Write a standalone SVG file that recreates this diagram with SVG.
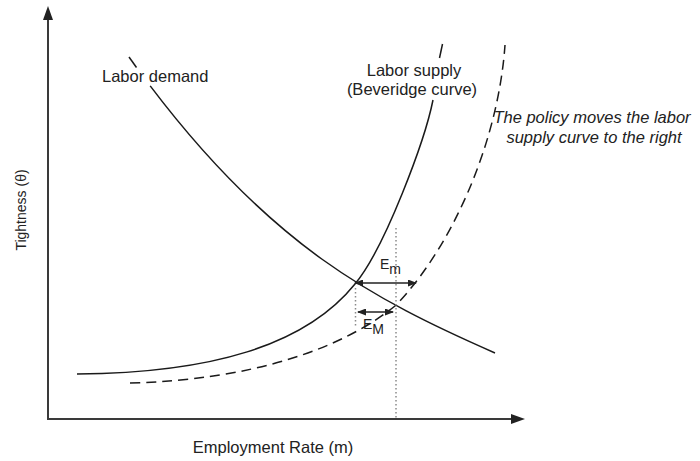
<svg xmlns="http://www.w3.org/2000/svg" width="700" height="461" viewBox="0 0 700 461">
  <style>
    .lbl { font-family: "Liberation Sans", Arial, sans-serif; font-size: 16.5px; fill: #222; }
    .ital { font-style: italic; }
    .sm { font-family: "Liberation Sans", Arial, sans-serif; font-size: 14px; fill: #222; }
    .axis { stroke: #3a3a3a; stroke-width: 2; fill: none; }
    .curve { stroke: #1a1a1a; stroke-width: 1.5; fill: none; }
    .dash { stroke-dasharray: 10 6; }
    .dot { stroke: #8a8a8a; stroke-width: 1.5; stroke-dasharray: 1.5 2.5; fill: none; }
    .gap { stroke: #222; stroke-width: 1.3; fill: none; }
  </style>
  <defs>
    <marker id="axisHead" viewBox="0 0 14 10" refX="6" refY="5" markerWidth="14" markerHeight="10" markerUnits="userSpaceOnUse" orient="auto">
      <path d="M0,0 L14,5 L0,10 z" fill="#222"/>
    </marker>
    <marker id="gapHead" viewBox="0 0 9 7" refX="8" refY="3.5" markerWidth="9" markerHeight="7" markerUnits="userSpaceOnUse" orient="auto-start-reverse">
      <path d="M0,0 L9,3.5 L0,7 z" fill="#222"/>
    </marker>
  </defs>

  <g id="axes">
    <line class="axis" x1="48" y1="419" x2="48" y2="14" marker-end="url(#axisHead)"/>
    <line class="axis" x1="47" y1="419" x2="517" y2="419" marker-end="url(#axisHead)"/>
    <text class="lbl" x="273" y="453" text-anchor="middle">Employment Rate (m)</text>
    <text class="lbl" style="font-size:14px" transform="translate(26,210) rotate(-90)" text-anchor="middle">Tightness (θ)</text>
  </g>

  <g id="labor-demand">
    <line class="curve" x1="129" y1="57" x2="136.5" y2="67.5"/>
    <path class="curve" d="M150.2,85.9 C270.7,245.3 372.2,299.1 495,353"/>
    <text class="lbl" x="102" y="82">Labor demand</text>
  </g>

  <g id="labor-supply">
    <path class="curve" d="M77,374 C210,373 305,346 355,284 C385,248 425,140 433,100"/>
    <line class="curve" x1="439.5" y1="58" x2="442.5" y2="44"/>
    <text class="lbl" x="414" y="76" text-anchor="middle">Labor supply</text>
    <text class="lbl" x="412" y="95" text-anchor="middle">(Beveridge curve)</text>
  </g>

  <g id="labor-supply-shifted">
    <path class="curve dash" d="M130,383 C250,380 340,350 395,306 C450,250 498,145 505,45"/>
    <text class="lbl ital" x="592" y="123" text-anchor="middle">The policy moves the labor</text>
    <text class="lbl ital" x="594" y="143" text-anchor="middle">supply curve to the right</text>
  </g>

  <g id="connectors">
    <line class="dot" x1="355.5" y1="288" x2="355.5" y2="326"/>
    <line class="dot" x1="396" y1="228" x2="396" y2="419"/>
    <line class="gap" x1="355" y1="283" x2="416" y2="283" marker-start="url(#gapHead)" marker-end="url(#gapHead)"/>
    <line class="gap" x1="358" y1="312" x2="393" y2="312" marker-start="url(#gapHead)" marker-end="url(#gapHead)"/>
  </g>

  <g id="gap-labels">
    <text class="sm" x="380" y="269">E<tspan dy="5">m</tspan></text>
    <text class="sm" x="363" y="329">E<tspan dy="5">M</tspan></text>
  </g>
</svg>
